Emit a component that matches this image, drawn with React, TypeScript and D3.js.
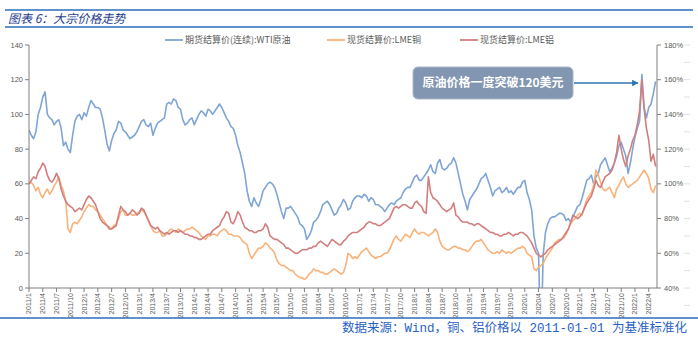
import React from 'react';
import * as d3 from 'd3';

// Semi-monthly readings (1st and 16th of each month), 2011/1 .. 2022/5
const wti: number[] = [
  91, 88, 86, 90, 100, 104, 110, 113, 100, 98, 97, 94, 96, 97, 92, 82, 84, 80, 78, 88, 96, 99, 100, 97, // 2011
  101, 99, 104, 108, 106, 104, 104, 103, 98, 91, 83, 79, 85, 89, 91, 96, 95, 91, 90, 88, 86, 87, 88, 90, // 2012
  93, 96, 97, 94, 93, 95, 88, 92, 95, 96, 97, 98, 106, 107, 106, 109, 108, 104, 103, 97, 94, 95, 97, 98, // 2013
  94, 97, 100, 102, 101, 99, 103, 102, 100, 102, 104, 106, 104, 101, 98, 96, 93, 92, 88, 82, 78, 72, 66, 56, // 2014
  50, 47, 52, 49, 47, 51, 56, 58, 60, 61, 60, 58, 54, 49, 44, 40, 46, 46, 47, 45, 43, 41, 37, 36, // 2015
  34, 28, 30, 33, 38, 39, 41, 44, 48, 49, 50, 48, 45, 42, 43, 46, 48, 51, 49, 45, 46, 50, 52, 53, // 2016
  53, 52, 54, 53, 50, 52, 51, 48, 48, 47, 46, 44, 46, 48, 49, 48, 50, 51, 52, 55, 57, 58, 58, 61, // 2017
  64, 65, 62, 62, 64, 66, 68, 71, 67, 66, 72, 74, 69, 68, 69, 71, 72, 75, 72, 66, 60, 54, 50, 45, // 2018
  51, 53, 55, 57, 60, 63, 64, 66, 62, 58, 53, 56, 57, 58, 55, 56, 58, 55, 56, 54, 56, 58, 58, 61, // 2019
  62, 55, 51, 45, 30, 23, 20, -37, 19, 32, 37, 40, 41, 41, 42, 43, 43, 42, 39, 40, 38, 41, 44, 47, // 2020
  48, 52, 57, 62, 63, 65, 60, 64, 66, 71, 73, 75, 71, 67, 69, 72, 76, 82, 84, 80, 76, 66, 72, 80, // 2021
  87, 92, 96, 123, 104, 98, 104, 106, 112, 119, // 2022
];

const copper: number[] = [
  100, 101, 99, 96, 98, 94, 92, 95, 97, 94, 96, 99, 101, 104, 99, 96, 90, 74, 72, 77, 78, 77, 79, 81, // 2011
  84, 86, 88, 87, 87, 85, 84, 82, 80, 78, 76, 75, 74, 76, 77, 80, 84, 85, 82, 82, 83, 82, 82, 83, // 2012
  84, 85, 84, 82, 79, 76, 73, 72, 72, 73, 70, 70, 71, 73, 74, 73, 72, 74, 73, 72, 73, 74, 74, 75, // 2013
  74, 73, 72, 70, 69, 68, 70, 70, 71, 71, 70, 72, 73, 74, 73, 71, 71, 70, 70, 70, 69, 67, 66, 65, // 2014
  60, 57, 59, 61, 63, 63, 64, 66, 65, 63, 62, 60, 56, 54, 53, 53, 52, 51, 50, 50, 48, 47, 46, 46, // 2015
  45, 46, 48, 49, 51, 50, 50, 49, 49, 48, 48, 49, 50, 51, 50, 49, 48, 49, 53, 60, 59, 57, 58, 57, // 2016
  59, 61, 62, 63, 61, 59, 58, 57, 58, 58, 59, 60, 60, 62, 65, 68, 70, 68, 67, 69, 71, 70, 69, 72, // 2017
  74, 72, 71, 72, 72, 71, 70, 71, 72, 74, 72, 67, 64, 63, 62, 62, 63, 64, 64, 63, 63, 62, 62, 61, // 2018
  62, 64, 66, 67, 67, 68, 66, 64, 62, 61, 60, 60, 61, 60, 62, 61, 60, 61, 60, 61, 62, 63, 63, 64, // 2019
  63, 60, 59, 58, 51, 50, 52, 53, 54, 57, 59, 61, 63, 66, 67, 68, 68, 69, 71, 74, 77, 79, 80, 82, // 2020
  83, 82, 87, 91, 93, 95, 99, 108, 105, 101, 97, 96, 97, 98, 95, 92, 97, 99, 102, 104, 100, 98, 99, 100, // 2021
  101, 102, 104, 106, 108, 106, 103, 97, 95, 99, // 2022
];

const aluminum: number[] = [
  100, 102, 104, 103, 107, 109, 112, 110, 105, 102, 101, 103, 106, 103, 97, 93, 90, 88, 87, 86, 84, 85, 86, 85, // 2011
  88, 91, 93, 92, 90, 88, 84, 80, 78, 77, 76, 74, 74, 75, 76, 82, 87, 85, 84, 82, 83, 85, 84, 82, // 2012
  83, 86, 85, 82, 79, 76, 75, 74, 75, 73, 72, 71, 72, 71, 72, 73, 73, 72, 73, 72, 71, 71, 70, 70, // 2013
  69, 69, 68, 68, 69, 70, 71, 71, 73, 74, 75, 76, 79, 81, 84, 83, 78, 77, 80, 84, 82, 78, 75, 74, // 2014
  73, 73, 72, 72, 73, 73, 74, 77, 75, 70, 69, 68, 68, 67, 66, 65, 63, 63, 62, 61, 60, 60, 61, 62, // 2015
  62, 62, 63, 63, 64, 64, 66, 67, 66, 65, 64, 66, 68, 67, 66, 65, 65, 67, 68, 70, 71, 72, 72, 72, // 2016
  73, 74, 75, 77, 78, 78, 77, 77, 76, 76, 77, 78, 79, 80, 83, 86, 87, 86, 87, 88, 88, 87, 86, 86, // 2017
  89, 90, 88, 87, 84, 83, 104, 95, 92, 91, 90, 88, 86, 85, 84, 85, 86, 89, 82, 81, 79, 78, 78, 78, // 2018
  77, 77, 76, 77, 77, 76, 75, 74, 73, 72, 72, 71, 71, 70, 70, 71, 71, 72, 71, 70, 71, 71, 72, 72, // 2019
  71, 70, 68, 66, 63, 60, 59, 58, 59, 60, 62, 63, 64, 65, 66, 67, 68, 70, 72, 74, 78, 82, 81, 80, // 2020
  81, 83, 86, 89, 91, 93, 97, 102, 99, 98, 101, 104, 105, 106, 108, 112, 118, 128, 120, 114, 110, 116, 120, 125, // 2021
  128, 134, 142, 160, 143, 132, 125, 113, 117, 110, // 2022
];

const seriesNames = ['期货结算价(连续):WTI原油', '现货结算价:LME铜', '现货结算价:LME铝'];
const seriesColors = ['#7fa5d5', '#f9b27a', '#d27e7e'];

const leftTicks = [0, 20, 40, 60, 80, 100, 120, 140];
const rightTicks = [40, 60, 80, 100, 120, 140, 160, 180];
const rightMinor = [30, 40, 50, 60, 70, 80, 90, 100, 110, 120, 130, 140, 150, 160, 170, 180];

const xTickLabels = [
  '2011/1', '2011/4', '2011/7', '2011/10', '2012/1', '2012/4', '2012/7', '2012/10',
  '2013/1', '2013/4', '2013/7', '2013/10', '2014/1', '2014/4', '2014/7', '2014/10',
  '2015/1', '2015/4', '2015/7', '2015/10', '2016/1', '2016/4', '2016/7', '2016/10',
  '2017/1', '2017/4', '2017/7', '2017/10', '2018/1', '2018/4', '2018/7', '2018/10',
  '2019/1', '2019/4', '2019/7', '2019/10', '2020/1', '2020/4', '2020/7', '2020/10',
  '2021/1', '2021/4', '2021/7', '2021/10', '2022/1', '2022/4',
];

const titleText = '图表 6：大宗价格走势';
const noteText = '原油价格一度突破120美元';
const sourceText = '数据来源：Wind，铜、铝价格以 2011-01-01 为基准标准化';

export default function App() {
  const W = 698, H = 341;
  const L = 29, R = 657, T = 45, B = 288;
  const x = d3.scaleLinear().domain([0, 136.8]).range([L, R]);
  const yL = d3.scaleLinear().domain([0, 140]).range([B, T]);
  const yR = d3.scaleLinear().domain([40, 180]).range([B, T]);

  const lineLeft = d3.line<number>().x((_, i) => x(i / 2)).y((d) => yL(d));
  const lineRight = d3.line<number>().x((_, i) => x(i / 2)).y((d) => yR(d));

  const numFont = '"Liberation Sans", Arial, sans-serif';
  const cjkFont = '"Noto Sans CJK SC", "Liberation Sans", sans-serif';
  const axisColor = '#7f7f7f';
  const labelColor = '#595959';

  const legendX = [165, 327, 460];

  return (
    <div style={{ position: 'absolute', left: 0, top: 0 }}>
      <svg width={W} height={H} style={{ display: 'block', background: '#fff' }}>
        <defs>
          <clipPath id="plotClip">
            <rect x={L} y={T - 20} width={R - L} height={B - T + 20} />
          </clipPath>
          <marker id="arrowHead" viewBox="0 0 10 10" refX="9" refY="5" markerWidth="5" markerHeight="5" orient="auto">
            <path d="M0,0 L10,5 L0,10 z" fill="#2e75b6" />
          </marker>
        </defs>

        {/* header */}
        <line x1={5} x2={693} y1={10} y2={10} stroke="#2a6ebb" strokeWidth={1.5} />
        <line x1={5} x2={693} y1={27} y2={27} stroke="#2a6ebb" strokeWidth={1.5} />
        <text x={8} y={22.5} fontFamily={cjkFont} fontSize={12} fontStyle="italic" fill="#1f3f8f">{titleText}</text>

        {/* legend */}
        {seriesNames.map((n, i) => (
          <g key={n}>
            <line x1={legendX[i]} x2={legendX[i] + 18} y1={40} y2={40} stroke={seriesColors[i]} strokeWidth={1.8} />
            <text x={legendX[i] + 20} y={40} dy="0.35em" fontFamily={cjkFont} fontSize={9} fill={labelColor}>{n}</text>
          </g>
        ))}

        {/* series */}
        <g clipPath="url(#plotClip)">
          <path d={lineLeft(wti) || ''} fill="none" stroke={seriesColors[0]} strokeWidth={1.6} strokeLinejoin="round" />
          <path d={lineRight(copper) || ''} fill="none" stroke={seriesColors[1]} strokeWidth={1.6} strokeLinejoin="round" />
          <path d={lineRight(aluminum) || ''} fill="none" stroke={seriesColors[2]} strokeWidth={1.6} strokeLinejoin="round" />
        </g>

        {/* left axis */}
        <line x1={L} x2={L} y1={T} y2={B} stroke={axisColor} strokeWidth={1} />
        {leftTicks.map((t) => (
          <g key={'l' + t}>
            <line x1={L - 4} x2={L} y1={yL(t)} y2={yL(t)} stroke={axisColor} />
            <text x={L - 6} y={yL(t)} dy="0.35em" textAnchor="end" fontFamily={numFont} fontSize={7.5} fill={labelColor}>{t}</text>
          </g>
        ))}

        {/* right axis */}
        <line x1={R} x2={R} y1={T} y2={B} stroke={axisColor} strokeWidth={1} />
        {rightTicks.map((t) => (
          <g key={'r' + t}>
            <line x1={R} x2={R + 4} y1={yR(t)} y2={yR(t)} stroke={axisColor} />
            <text x={R + 7} y={yR(t)} dy="0.35em" textAnchor="start" fontFamily={numFont} fontSize={7.5} fill={labelColor}>{t}%</text>
          </g>
        ))}
        {rightMinor.map((t) => (
          <line key={'m' + t} x1={684} x2={690} y1={yR(t)} y2={yR(t)} stroke="#e0e0e0" />
        ))}

        {/* x axis */}
        <line x1={L} x2={R} y1={B} y2={B} stroke={axisColor} strokeWidth={1} />
        {xTickLabels.map((lab, k) => (
          <g key={lab}>
            <line x1={x(3 * k)} x2={x(3 * k)} y1={B} y2={B + 4} stroke={axisColor} />
            <text transform={`translate(${x(3 * k)},${B + 5}) rotate(-90)`} dy="0.35em" textAnchor="end" fontFamily={numFont} fontSize={7} fill={labelColor}>{lab}</text>
          </g>
        ))}

        {/* annotation */}
        <rect x={413} y={67} width={160} height={32} rx={5} fill="#8396b1" stroke="#a8b6c9" strokeWidth={1} />
        <text x={493} y={83} dy="0.35em" textAnchor="middle" fontFamily={cjkFont} fontSize={12} fontWeight="bold" fill="#ffffff">{noteText}</text>
        <line x1={574} x2={638} y1={83} y2={83} stroke="#2e75b6" strokeWidth={1.3} markerEnd="url(#arrowHead)" />

        {/* footer */}
        <line x1={0} x2={698} y1={318} y2={318} stroke="#2a6ebb" strokeWidth={1.5} />
        <text x={687} y={332} textAnchor="end" fontFamily={'"Liberation Mono", "Noto Sans CJK SC", monospace'} fontSize={12.5} fill="#2a62c4">{sourceText}</text>
      </svg>
    </div>
  );
}
